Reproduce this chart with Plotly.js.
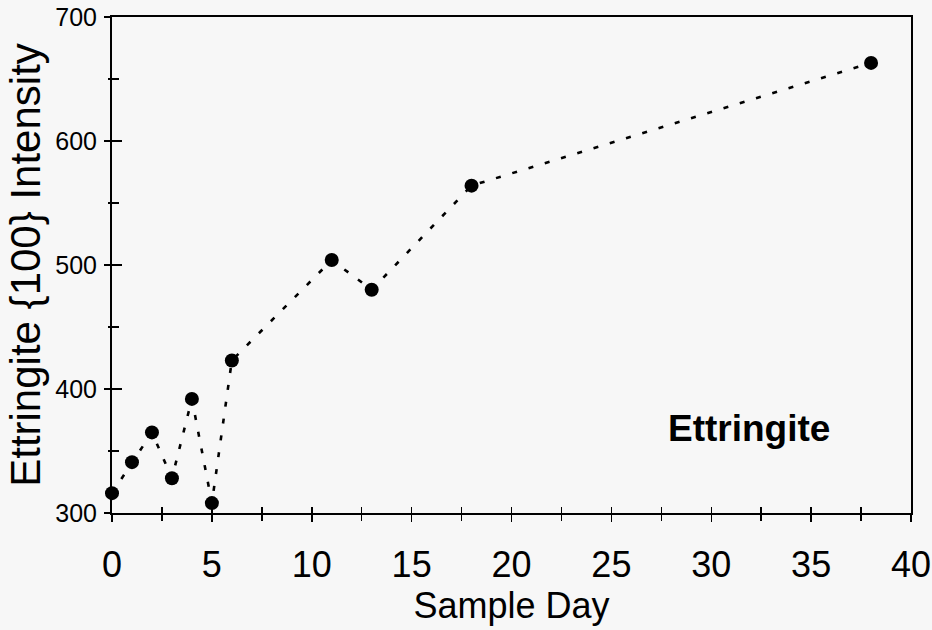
<!DOCTYPE html>
<html>
<head>
<meta charset="utf-8">
<script src="https://cdn.plot.ly/plotly-3.0.1.min.js"></script>
<style>html,body{margin:0;padding:0;background:#f7f7f7;}#chart{width:932px;height:630px;}</style>
</head>
<body>
<div id="chart"></div>
<script>
// Data
const sampleDay = [0, 1, 2, 3, 4, 5, 6, 11, 13, 18, 38];
const intensity = [316, 341, 365, 328, 392, 308, 423, 504, 480, 564, 663];
const xTickVals = [0, 5, 10, 15, 20, 25, 30, 35, 40];
const yTickVals = [300, 400, 500, 600, 700];
const xTitle = 'Sample Day';
const yTitle = 'Ettringite {100} Intensity';
const label = 'Ettringite';

const font = 'Liberation Sans, Arial, sans-serif';

const traces = [
  {
    x: sampleDay, y: intensity,
    type: 'scatter', mode: 'lines+markers',
    line: {color: '#000', width: 2.6, dash: '5px,12px'},
    marker: {color: '#000', size: 14, symbol: 'circle'},
    hoverinfo: 'skip', showlegend: false, cliponaxis: false
  },
  {x: [], y: [], xaxis: 'x2', yaxis: 'y2', showlegend: false}
];

const layout = {
  width: 932, height: 630,
  margin: {l: 112, r: 21, t: 17, b: 117},
  paper_bgcolor: '#f7f7f7', plot_bgcolor: '#f7f7f7',
  font: {family: font, color: '#000'},
  showlegend: false,
  xaxis: {
    range: [0, 40], tickvals: xTickVals, ticktext: xTickVals.map(String),
    ticks: 'outside', ticklen: 7, tickwidth: 1.5, tickcolor: '#000',
    minor: {dtick: 2.5, ticks: 'outside', ticklen: 6, tickwidth: 1.5, tickcolor: '#000'},
    showline: true, linecolor: '#000', linewidth: 2, mirror: true,
    showgrid: false, zeroline: false,
    tickfont: {size: 36, family: font},
    ticklabelstandoff: 12,
    title: {text: xTitle, font: {size: 36, family: font}, standoff: 4}
  },
  yaxis: {
    range: [300, 700], tickvals: yTickVals, ticktext: yTickVals.map(String),
    ticks: 'outside', ticklen: 6, tickwidth: 1.5, tickcolor: '#000',
    minor: {dtick: 50, ticks: 'outside', ticklen: 2, tickwidth: 1.5, tickcolor: '#000'},
    showline: true, linecolor: '#000', linewidth: 2, mirror: true,
    showgrid: false, zeroline: false,
    tickfont: {size: 25, family: font},
    ticklabelstandoff: 2,
    title: {text: yTitle, font: {size: 42, family: font}, standoff: 2}
  },
  xaxis2: {
    overlaying: 'x', anchor: 'y2', range: [0, 40], tickvals: xTickVals,
    ticks: 'inside', ticklen: 4, tickwidth: 1.5, tickcolor: '#000',
    minor: {dtick: 2.5, ticks: 'inside', ticklen: 6, tickwidth: 1.5, tickcolor: '#000'},
    showticklabels: false, showline: false, showgrid: false, zeroline: false, side: 'bottom'
  },
  yaxis2: {
    overlaying: 'y', anchor: 'x2', range: [300, 700], tickvals: yTickVals,
    ticks: 'inside', ticklen: 10, tickwidth: 1.5, tickcolor: '#000',
    minor: {dtick: 50, ticks: 'inside', ticklen: 7, tickwidth: 1.5, tickcolor: '#000'},
    showticklabels: false, showline: false, showgrid: false, zeroline: false, side: 'left'
  },
  annotations: [{
    x: 31.9, y: 368, xref: 'x', yref: 'y', text: '<b>' + label + '</b>',
    showarrow: false, font: {size: 37, family: font, color: '#000'}
  }]
};

Plotly.newPlot('chart', traces, layout, {staticPlot: true, displayModeBar: false});
</script>
</body>
</html>
